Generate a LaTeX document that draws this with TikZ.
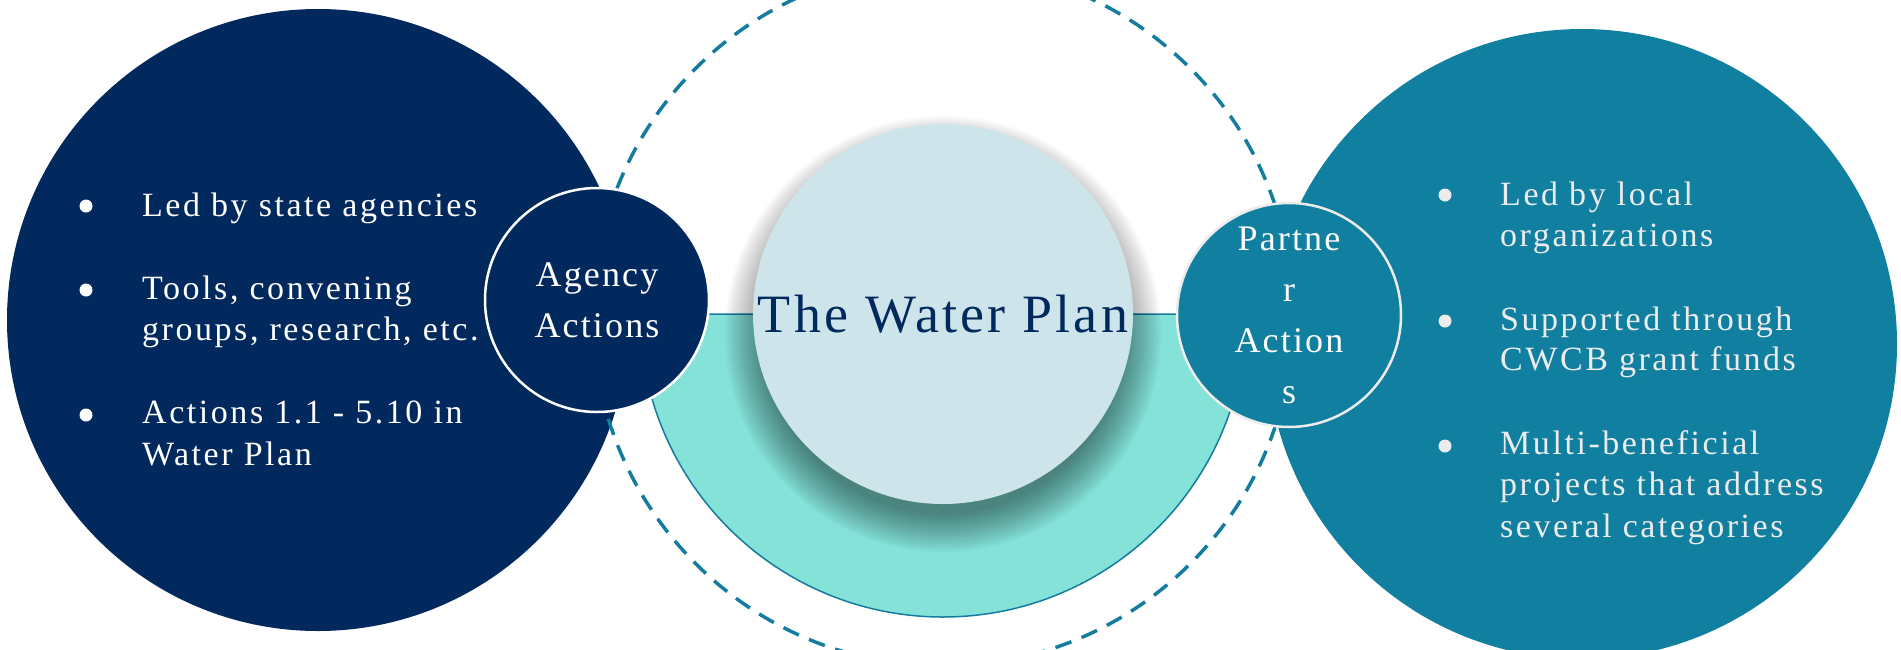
\documentclass[tikz,border=0pt]{standalone}
\usepackage{fontspec}
\setmainfont{Liberation Serif}
\newfontfamily\trackfont{Liberation Serif}[LetterSpace=6]
\newfontfamily\widefont{Liberation Serif}[LetterSpace=7.5]
\definecolor{navy}{RGB}{1,41,94}
\definecolor{tealdark}{RGB}{16,127,160}
\definecolor{dashc}{RGB}{20,124,158}
\definecolor{aqua}{RGB}{132,226,217}
\definecolor{pale}{RGB}{205,229,234}
\definecolor{ltgray}{RGB}{236,236,236}
\tikzset{
  bigdisc/.style={circle, inner sep=0pt, minimum size=#1, draw=none},
  smalldisc/.style={circle, inner sep=0pt, minimum size=224pt, draw=white, line width=2.5pt,
     text=white, align=center, font=\trackfont\fontsize{36}{51}\selectfont},
  bultext/.style={anchor=base west, inner sep=0pt, font=\widefont\fontsize{34}{41}\selectfont},
  bulletdot/.style={circle, inner sep=0pt, minimum size=13pt},
}
\begin{document}
\begin{tikzpicture}[x=1pt,y=-1pt]
\useasboundingbox (0,0) rectangle (1901,649);
\clip (0,0) rectangle (1901,649);
% big circles
\node[bigdisc=622pt, fill=navy] (left) at (318,320) {};
\node[bigdisc=630pt, fill=tealdark] (right) at (1582,344) {};
% dashed ring
\node[circle, inner sep=0pt, minimum size=700pt, draw=dashc, line width=3.5pt,
      dash pattern=on 17pt off 11pt] (ring) at (943,316) {};
% aqua half disc
\filldraw[fill=aqua, draw=dashc, line width=1.5pt]
  (640,314) arc[start angle=180, end angle=360, radius=303pt] -- cycle;
% shadow of the central disc
\foreach \k in {0,...,19}{
  \fill[black, opacity=0.022] (943,334) circle[radius={(218-2.0*\k)*1pt}];
}
\node[bigdisc=380pt, fill=pale, text=navy, font=\trackfont\fontsize{54}{60}\selectfont] (plan) at (943,314) {The Water Plan};
% small circles
\node[smalldisc, fill=navy] (agency) at (597,300) {Agency\\Actions};
\node[smalldisc, fill=tealdark, draw=ltgray] (partner) at (1289,315) {Partne\\r\\Action\\s};
% left bullets
\node[bulletdot, fill=white] (lb1) at (86,206) {};
\node[bulletdot, fill=white] (lb2) at (86,290) {};
\node[bulletdot, fill=white] (lb3) at (86,415) {};
\node[bultext, text=white] (lt1) at (142,216) {Led by state agencies};
\node[bultext, text=white] (lt2) at (142,299) {Tools, convening};
\node[bultext, text=white] (lt3) at (142,340) {groups, research, etc.};
\node[bultext, text=white] (lt4) at (142,423) {Actions 1.1 - 5.10 in};
\node[bultext, text=white] (lt5) at (142,465) {Water Plan};
% right bullets
\node[bulletdot, fill=ltgray] (rb1) at (1445,195) {};
\node[bulletdot, fill=ltgray] (rb2) at (1445,321) {};
\node[bulletdot, fill=ltgray] (rb3) at (1445,446) {};
\node[bultext, text=ltgray] (rt1) at (1500,205) {Led by local};
\node[bultext, text=ltgray] (rt2) at (1500,246) {organizations};
\node[bultext, text=ltgray] (rt3) at (1500,330) {Supported through};
\node[bultext, text=ltgray] (rt4) at (1500,370) {CWCB grant funds};
\node[bultext, text=ltgray] (rt5) at (1500,454) {Multi-beneficial};
\node[bultext, text=ltgray] (rt6) at (1500,495) {projects that address};
\node[bultext, text=ltgray] (rt7) at (1500,537) {several categories};
\end{tikzpicture}
\end{document}
